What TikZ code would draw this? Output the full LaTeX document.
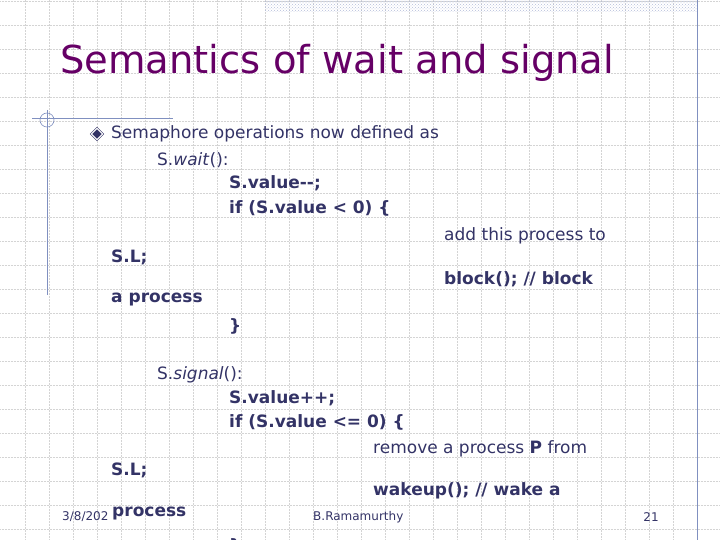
\documentclass[tikz,border=0pt]{standalone}
\usepackage{fontspec}
\setmainfont{DejaVu Sans}
\usetikzlibrary{patterns}
\definecolor{ttl}{HTML}{660066}
\definecolor{txt}{HTML}{333366}
\definecolor{rule}{HTML}{8090C0}
\definecolor{gridc}{HTML}{D4D4D4}
\tikzset{
  body/.style={anchor=west,inner sep=0pt,text=txt,font=\fontsize{17}{17}\selectfont},
  code/.style={body,font=\fontsize{17}{17}\selectfont\bfseries},
  foot/.style={anchor=west,inner sep=0pt,text=txt,font=\fontsize{12}{12}\selectfont}
}
\begin{document}
\begin{tikzpicture}[x=1pt,y=-1pt]
\useasboundingbox (0,0) rectangle (720,540);
\begin{scope}
\clip (0,0) rectangle (720,540);
\foreach \i in {1,...,30} {
  \draw[gridc,densely dotted,line width=0.5pt] (\i*24+1,0) -- (\i*24+1,540);
}
\foreach \j in {0,...,22} {
  \draw[gridc,densely dotted,line width=0.5pt] (0,\j*24+1) -- (720,\j*24+1);
}
\fill[pattern=crosshatch dots,pattern color=rule!60] (265,0) rectangle (697,12);
\draw[rule,line width=0.8pt] (697,0) -- (697,540);
\draw[rule,line width=0.8pt] (32,118) -- (173,118);
\draw[rule,line width=0.8pt] (47,110) -- (47,295);
\draw[rule,line width=0.6pt] (47,120) circle (7);
\node[anchor=west,inner sep=0pt,text=ttl,font=\fontsize{38.5}{38.5}\selectfont] (title) at (60,63) {Semantics of wait and signal};
\node[fill=txt,draw=txt,double=white,double distance=1pt,line width=0.6pt,rotate=45,minimum size=8pt,inner sep=0pt] (bul) at (97,134) {};
\node[body] (l1) at (111,134) {Semaphore operations now defined as};
\node[body] (l2) at (157,160) {S.\textit{wait}():};
\node[code] (l3) at (229,183) {S.value-{}-;};
\node[code] (l4) at (229,208) {if (S.value < 0) \{};
\node[body] (l5) at (444,236) {add this process to};
\node[code] (l6) at (111,257) {S.L;};
\node[code] (l7) at (444,279) {block(); // block};
\node[code] (l8) at (111,300) {a process};
\node[code] (l9) at (229,326) {\}};
\node[body] (l10) at (157,375) {S.\textit{signal}():};
\node[code] (l11) at (229,398) {S.value++;};
\node[code] (l12) at (229,422) {if (S.value <= 0) \{};
\node[body] (l13) at (373,449) {remove a process \textbf{P} from};
\node[code] (l14) at (111,470) {S.L;};
\node[code] (l15) at (373,491) {wakeup(); // wake a};
\node[code] (l16) at (112,514) {process};
\node[code] (l17) at (229,546) {\}};
\node[foot] (d) at (62,517) {3/8/202};
\node[foot] (a) at (313,517) {B.Ramamurthy};
\node[foot,anchor=center] (n) at (651,517) {21};
\end{scope}
\end{tikzpicture}
\end{document}
